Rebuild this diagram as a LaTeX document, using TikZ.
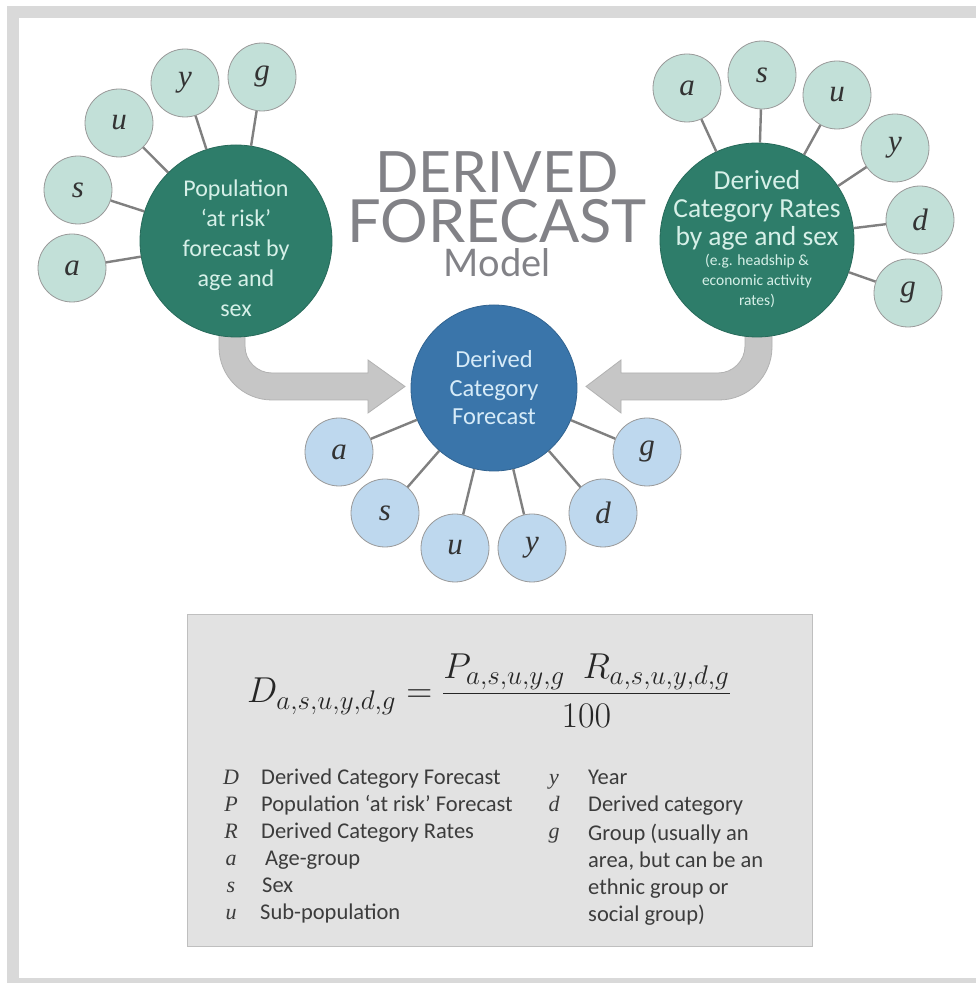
\RequirePackage{fix-cm}
\documentclass[tikz,border=0pt]{standalone}
\usepackage{amsmath}
\usepackage{fontspec}
\setmainfont{Carlito}
\newfontfamily\titlefont{Lato}
\newfontfamily\leaffont{Liberation Serif}
\usetikzlibrary{positioning}
\DeclareMathSizes{36}{36}{27}{21}
\definecolor{framegray}{RGB}{217,217,217}
\definecolor{riskgreen}{RGB}{46,125,106}
\definecolor{mintleaf}{RGB}{194,224,216}
\definecolor{mintink}{RGB}{214,240,232}
\definecolor{forecastblue}{RGB}{58,117,170}
\definecolor{skyleaf}{RGB}{190,216,238}
\definecolor{skyink}{RGB}{214,235,248}
\definecolor{arrowgray}{RGB}{198,198,198}
\definecolor{boxgray}{RGB}{226,226,226}
\definecolor{titlegray}{RGB}{130,130,135}
\definecolor{legendink}{RGB}{60,60,60}

\begin{document}
\begin{tikzpicture}[x=1pt,y=1pt]
  \tikzset{
    hub/.style={circle,line width=0.8pt,inner sep=0pt,align=center},
    risk/.style={hub,draw=riskgreen!85!black,fill=riskgreen,text=mintink},
    dcf/.style={hub,draw=forecastblue!85!black,fill=forecastblue,text=skyink},
    hubtext/.style={align=center,inner sep=0pt,text=mintink},
    leaf/.style={circle,draw=black!40,line width=0.8pt,minimum size=68pt,inner sep=0pt,
      text=black!80,font=\leaffont\itshape\fontsize{31}{32}\selectfont},
    gleaf/.style={leaf,fill=mintleaf}, bleaf/.style={leaf,fill=skyleaf},
    spoke/.style={draw=black!50,line width=2.4pt},
    fatarrow/.style={fill=arrowgray,draw=black!30,line width=0.8pt},
    sym/.style={anchor=mid,inner sep=0pt,text=legendink,font=\leaffont\itshape\fontsize{22}{27}\selectfont},
    desc/.style={anchor=mid west,inner sep=0pt,text=legendink,font=\fontsize{22.5}{27}\selectfont},
  }
  \useasboundingbox (0,0) rectangle (976,983);
  \clip (0,0) rectangle (976,983);
  \fill[white] (0,0) rectangle (976,983);
  \draw[framegray,line width=12pt] (13,-1) rectangle (990,971);

  % grey bent arrows into the forecast
  \draw[fatarrow] (219,670) -- (219,636) arc[start angle=180,end angle=270,radius=53]
    -- (368,583) -- (368,570) -- (405,596.5) -- (368,623) -- (368,610)
    -- (272,610) arc[start angle=270,end angle=180,radius=27] -- (245,670) -- cycle;
  \draw[fatarrow] (772,670) -- (772,636) arc[start angle=0,end angle=-90,radius=53]
    -- (621,583) -- (621,570) -- (586,596.5) -- (621,623) -- (621,610)
    -- (718,610) arc[start angle=270,end angle=360,radius=27] -- (745,670) -- cycle;

  % hubs
  \node[risk,minimum size=192pt] (pop) at (236,742) {};
  \node[risk,minimum size=194pt] (rates) at (757,743) {};
  \node[dcf,minimum size=166pt,font=\fontsize{24.5}{28.5}\selectfont] (dcf) at (494,595)
    {Derived\\Category\\Forecast};
  \node[hubtext,font=\fontsize{24}{30}\selectfont] (poptext) at (236,735)
    {Population\\‘at risk’\\forecast by\\age and\\sex};
  \node[hubtext,font=\fontsize{27.5}{28}\selectfont] (ratesmain) at (757,773)
    {Derived\\Category Rates\\by age and sex};
  \node[hubtext,font=\fontsize{15.5}{20}\selectfont,below=4pt of ratesmain] (ratesnote)
    {(e.g. headship \&\\economic activity\\rates)};

  % leaves of the population forecast
  \node[gleaf] (pa) at (72,715) {a}; \node[gleaf] (ps) at (78,793) {s};
  \node[gleaf] (pu) at (119,860) {u}; \node[gleaf] (py) at (185,900) {y};
  \node[gleaf] (pg) at (262,906) {g};
  \draw[spoke] (pa)--(pop) (ps)--(pop) (pu)--(pop) (py)--(pop) (pg)--(pop);

  % leaves of the rates
  \node[gleaf] (ra) at (687,895) {a}; \node[gleaf] (rs) at (762,908) {s};
  \node[gleaf] (ru) at (837,888) {u}; \node[gleaf] (ry) at (895,835) {y};
  \node[gleaf] (rd) at (920,763) {d}; \node[gleaf] (rg) at (908,690) {g};
  \draw[spoke] (ra)--(rates) (rs)--(rates) (ru)--(rates) (ry)--(rates)
               (rd)--(rates) (rg)--(rates);

  % leaves of the derived forecast
  \node[bleaf] (da) at (339,531) {a}; \node[bleaf] (ds) at (385,470) {s};
  \node[bleaf] (du) at (455,435) {u}; \node[bleaf] (dy) at (532,435) {y};
  \node[bleaf] (dd) at (603,470) {d}; \node[bleaf] (dg) at (647,531) {g};
  \draw[spoke] (da)--(dcf) (ds)--(dcf) (du)--(dcf) (dy)--(dcf) (dd)--(dcf) (dg)--(dcf);

  % title
  \node[align=center,inner sep=0pt,text=titlegray,font=\titlefont\fontsize{57}{50}\selectfont]
    (title) at (497,768.5)
    {DERIVED\\
     \fontsize{59.5}{50}\selectfont FORECAST\\[-16pt]
     \fontsize{38}{50}\selectfont Model};

  % formula box
  \draw[fill=boxgray,draw=black!25,line width=1pt] (187,36) rectangle (812,368);
  \node[anchor=base west,inner sep=0pt,text=black!85,font=\fontsize{36}{40}\selectfont]
    (eq) at (247,280) {$\displaystyle D_{a,s,u,y,d,g} = \frac{P_{a,s,u,y,g}\enspace R_{a,s,u,y,d,g}}{100}$};

  \node[sym] (kD) at (231,201) {D}; \node[desc] (tD) at (261,201) {Derived Category Forecast};
  \node[sym] (kP) at (231,174) {P}; \node[desc] (tP) at (261,174) {Population ‘at risk’ Forecast};
  \node[sym] (kR) at (231,147) {R}; \node[desc] (tR) at (261,147) {Derived Category Rates};
  \node[sym] (ka) at (231,120) {a}; \node[desc] (ta) at (265,120) {Age-group};
  \node[sym] (ks) at (231,93) {s};  \node[desc] (ts) at (262,93) {Sex};
  \node[sym] (ku) at (231,66) {u};  \node[desc] (tu) at (260,66) {Sub-population};
  \node[sym] (ky) at (554,201) {y}; \node[desc] (ty) at (588,201) {Year};
  \node[sym] (kd) at (554,174) {d}; \node[desc] (td) at (588,174) {Derived category};
  \node[sym] (kg) at (554,147) {g};
  \node[desc,anchor=north west,align=left] (tg) at (588,159)
    {Group (usually an\\area, but can be an\\ethnic group or\\social group)};
\end{tikzpicture}
\end{document}
